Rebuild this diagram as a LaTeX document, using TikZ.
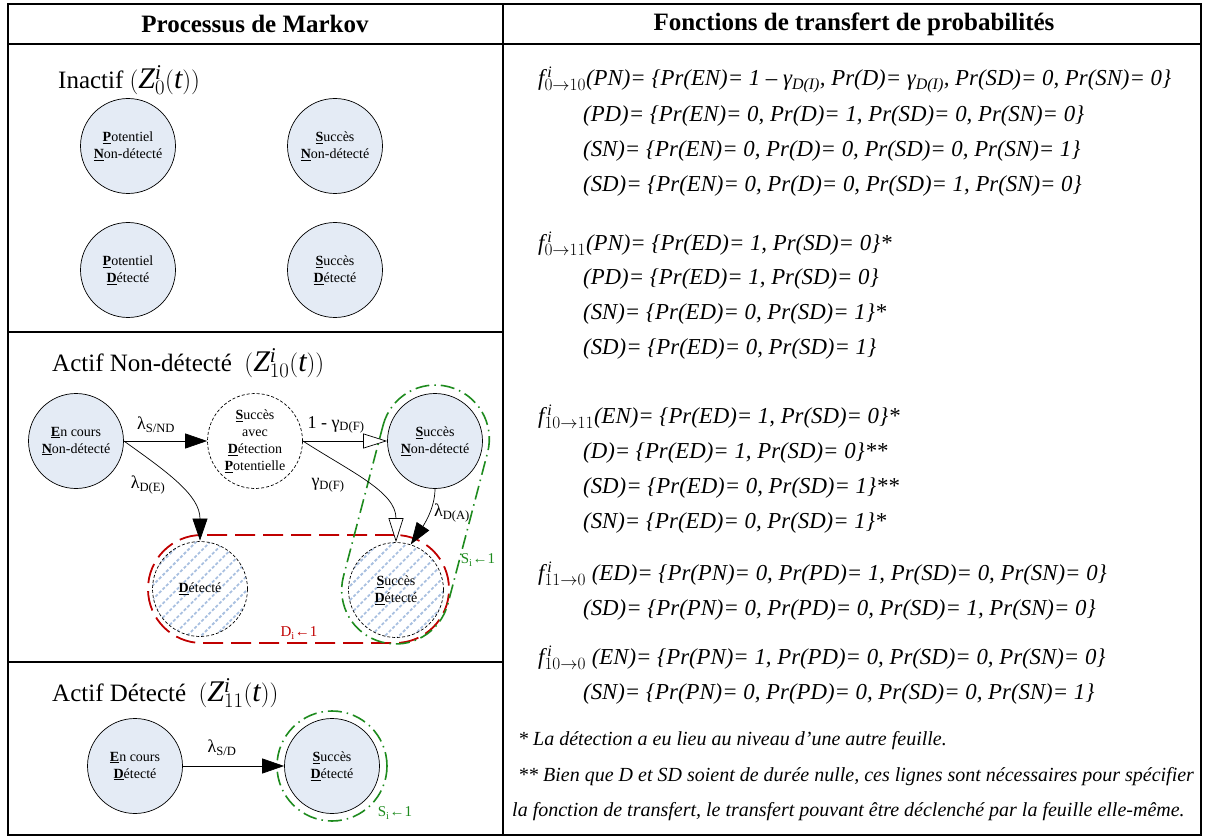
\documentclass[tikz,border=0pt]{standalone}
\usepackage{fontspec}
\setmainfont{Liberation Serif}
\usepackage{tikz}
\usetikzlibrary{arrows.meta, positioning, patterns.meta}
\definecolor{statefill}{HTML}{E4EBF5}
\definecolor{hatchblue}{HTML}{A9C0E0}
\definecolor{detred}{HTML}{C00000}
\definecolor{succgreen}{HTML}{1E8B1E}
\newcommand{\lettre}[1]{\textbf{\underline{#1}}}
\newcommand{\indice}[1]{\textsubscript{#1}}
\newcommand{\ftrans}[1]{$\mathit{f}^{\,\mathit{i}}_{#1}$}
\newcommand{\zproc}[1]{{\fontsize{30}{35}\selectfont$(\mathit{Z}^{\mathit{i}}_{#1}(\mathit{t}))$}}

\begin{document}
\begin{tikzpicture}[x=1pt, y=-1pt,
    cell/.style={line width=1.5pt},
    head/.style={font=\fontsize{25}{30}\selectfont\bfseries},
    titre/.style={anchor=west, inner sep=0pt, font=\fontsize{25}{30}\selectfont},
    etat/.style={circle, draw, line width=0.7pt, fill=statefill, minimum size=95pt,
                 inner sep=0pt, align=center, font=\fontsize{14}{17}\selectfont},
    transit/.style={etat, fill=white, dash pattern=on 3pt off 2pt},
    absorb/.style={transit, pattern={Lines[angle=45, distance=10pt, line width=1.8pt]},
                   pattern color=hatchblue},
    lbl/.style={font=\fontsize{18}{20}\selectfont},
    fleche/.style={-{Triangle[length=22pt, width=15pt]}, line width=0.7pt},
    creuse/.style={-{Triangle[length=24pt, width=15pt, fill=white]}, line width=0.7pt},
    zoned/.style={draw=detred, line width=1.8pt, dash pattern=on 20pt off 8pt},
    zones/.style={draw=succgreen, line width=1.6pt, dash pattern=on 14pt off 5pt on 1.5pt off 5pt},
    zlbl/.style={font=\fontsize{15}{17}\selectfont},
    formule/.style={anchor=west, inner sep=0pt, text height=17pt, text depth=6pt,
                    font=\fontsize{22.8}{27}\selectfont\itshape},
    note/.style={anchor=west, inner sep=0pt, text height=15pt, text depth=5pt,
                 font=\fontsize{20}{24}\selectfont\itshape},
]
\useasboundingbox (0,0) rectangle (1208,837);

\draw[cell] (8,4) rectangle (1201,835);
\draw[cell] (8,44) -- (1201,44);
\draw[cell] (503,4) -- (503,835);
\draw[cell] (8,332) -- (503,332);
\draw[cell] (8,662) -- (503,662);

\node[head] (h-markov) at (255,24) {Processus de Markov};
\node[head] (h-fonct)  at (854,24) {Fonctions de transfert de probabilités};

\node[titre] (t-inactif) at (58,80)  {Inactif \zproc{0}};
\node[titre] (t-actnd)   at (52,363) {Actif Non-détecté \ \zproc{10}};
\node[titre] (t-actd)    at (52,693) {Actif Détecté \ \zproc{11}};

\node[etat] (pn) at (128,146) {\lettre{P}otentiel\\\lettre{N}on-détecté};
\node[etat] (sn) at (335,146) {\lettre{S}uccès\\\lettre{N}on-détecté};
\node[etat] (pd) at (128,270) {\lettre{P}otentiel\\\lettre{D}étecté};
\node[etat] (sd) at (335,270) {\lettre{S}uccès\\\lettre{D}étecté};

\node[etat]    (en)  at (76,441)  {\lettre{E}n cours\\\lettre{N}on-détecté};
\node[transit] (sdp) at (255,441) {\lettre{S}uccès\\avec\\\lettre{D}étection\\\lettre{P}otentielle};
\node[etat]    (sna) at (435,441) {\lettre{S}uccès\\\lettre{N}on-détecté};
\node[absorb]  (det) at (200,589) {\lettre{D}étecté};
\node[absorb]  (sda) at (396,590) {\lettre{S}uccès\\\lettre{D}étecté};

\node[zoned, rounded corners=53.9pt, minimum width=301pt, minimum height=108pt] (zd) at (298.5,589) {};
\node[zones, rounded corners=53.9pt, minimum width=264pt, minimum height=108pt, rotate=75.3] (zs) at (415.5,514.5) {};
\node[zlbl, text=detred]    (l-di) at (299,633) {D\indice{i}←1};
\node[zlbl, text=succgreen] (l-si) at (478,560) {S\indice{i}←1};

\draw[fleche] (en.east) -- (sdp.west);
\draw[creuse] (sdp.east) -- (sna.west);
\draw[fleche] (en.east) .. controls +(45,32) and +(0,-45) .. (det.north);
\draw[creuse] (sdp.east) .. controls +(50,32) and +(0,-50) .. (sda.north);
\draw[fleche] (sna.south) .. controls +(0,20) and +(12,-18) .. (sda.72);
\node[lbl] (l-snd) at (156,425) {λ\indice{S/ND}};
\node[lbl] (l-df)  at (336,425) {1 - γ\indice{D(F)}};
\node[lbl] (l-de)  at (148,485) {λ\indice{D(E)}};
\node[lbl] (l-gdf) at (328,485) {γ\indice{D(F)}};
\node[lbl] (l-da)  at (452,513) {λ\indice{D(A)}};

\node[etat] (ed)  at (135,766) {\lettre{E}n cours\\\lettre{D}étecté};
\node[etat] (sdb) at (332,766) {\lettre{S}uccès\\\lettre{D}étecté};
\node[zones, circle, minimum size=110pt] (zsb) at (sdb) {};
\draw[fleche] (ed.east) -- (sdb.west);
\node[lbl] (l-sd) at (222,748) {λ\indice{S/D}};
\node[zlbl, text=succgreen] (l-sib) at (395,813) {S\indice{i}←1};

\node[formule] (f1a) at (538,80)  {\ftrans{0\to10}(PN)= \{Pr(EN)= 1 – γ\indice{D(I)}, Pr(D)= γ\indice{D(I)}, Pr(SD)= 0, Pr(SN)= 0\}};
\node[formule] (f1b) at (583,116) {(PD)= \{Pr(EN)= 0, Pr(D)= 1, Pr(SD)= 0, Pr(SN)= 0\}};
\node[formule] (f1c) at (583,151) {(SN)= \{Pr(EN)= 0, Pr(D)= 0, Pr(SD)= 0, Pr(SN)= 1\}};
\node[formule] (f1d) at (583,186) {(SD)= \{Pr(EN)= 0, Pr(D)= 0, Pr(SD)= 1, Pr(SN)= 0\}};

\node[formule] (f2a) at (538,245) {\ftrans{0\to11}(PN)= \{Pr(ED)= 1, Pr(SD)= 0\}*};
\node[formule] (f2b) at (583,279) {(PD)= \{Pr(ED)= 1, Pr(SD)= 0\}};
\node[formule] (f2c) at (583,314) {(SN)= \{Pr(ED)= 0, Pr(SD)= 1\}*};
\node[formule] (f2d) at (583,349) {(SD)= \{Pr(ED)= 0, Pr(SD)= 1\}};

\node[formule] (f3a) at (538,418) {\ftrans{10\to11}(EN)= \{Pr(ED)= 1, Pr(SD)= 0\}*};
\node[formule] (f3b) at (583,453) {(D)= \{Pr(ED)= 1, Pr(SD)= 0\}**};
\node[formule] (f3c) at (583,488) {(SD)= \{Pr(ED)= 0, Pr(SD)= 1\}**};
\node[formule] (f3d) at (583,523) {(SN)= \{Pr(ED)= 0, Pr(SD)= 1\}*};

\node[formule] (f4a) at (538,575) {\ftrans{11\to0} (ED)= \{Pr(PN)= 0, Pr(PD)= 1, Pr(SD)= 0, Pr(SN)= 0\}};
\node[formule] (f4b) at (583,610) {(SD)= \{Pr(PN)= 0, Pr(PD)= 0, Pr(SD)= 1, Pr(SN)= 0\}};

\node[formule] (f5a) at (538,659) {\ftrans{10\to0} (EN)= \{Pr(PN)= 1, Pr(PD)= 0, Pr(SD)= 0, Pr(SN)= 0\}};
\node[formule] (f5b) at (583,694) {(SN)= \{Pr(PN)= 0, Pr(PD)= 0, Pr(SD)= 0, Pr(SN)= 1\}};

\node[note] (n1) at (518,740) {* La détection a eu lieu au niveau d’une autre feuille.};
\node[note] (n2) at (518,776) {** Bien que D et SD soient de durée nulle, ces lignes sont nécessaires pour spécifier};
\node[note] (n3) at (512,811) {la fonction de transfert, le transfert pouvant être déclenché par la feuille elle-même.};
\end{tikzpicture}
\end{document}
